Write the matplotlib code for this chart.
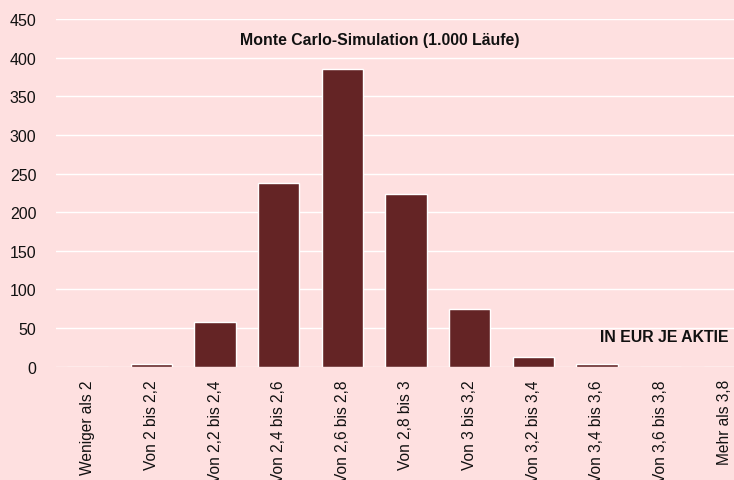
import matplotlib
matplotlib.use('Agg')
import matplotlib.pyplot as plt

# ── Data ──
categories = ["Weniger als 2", "Von 2 bis 2,2", "Von 2,2 bis 2,4", "Von 2,4 bis 2,6",
              "Von 2,6 bis 2,8", "Von 2,8 bis 3", "Von 3 bis 3,2", "Von 3,2 bis 3,4",
              "Von 3,4 bis 3,6", "Von 3,6 bis 3,8", "Mehr als 3,8"]
counts = [0, 4, 58, 238, 385, 224, 75, 12, 4, 0, 0]
y_ticks = [0, 50, 100, 150, 200, 250, 300, 350, 400, 450]

BG = '#FEE0E0'
BAR = '#642425'

plt.rcParams['font.family'] = ['Liberation Sans', 'DejaVu Sans']

fig = plt.figure(figsize=(7.34, 4.81), dpi=100, facecolor=BG)
ax = fig.add_axes([56 / 734, 113.3 / 481, 700 / 734, 347.7 / 481])
ax.set_facecolor(BG)

x = list(range(len(categories)))
ax.bar(x, counts, width=0.65, color=BAR, edgecolor='white', linewidth=1, zorder=3)

ax.set_xlim(-0.5, len(categories) - 0.5)
ax.set_ylim(0, 450)
ax.set_yticks(y_ticks)
ax.set_yticklabels([str(v) for v in y_ticks], fontsize=11.5, color='#111111')
ax.set_xticks(x)
ax.set_xticklabels(categories, rotation=90, fontsize=11.2, color='#111111', va='top')
ax.tick_params(axis='both', length=0)
ax.tick_params(axis='y', pad=14)
ax.tick_params(axis='x', pad=9)
ax.grid(axis='y', color='white', linewidth=1.0, zorder=0)
ax.grid(axis='x', visible=False)
for s in ax.spines.values():
    s.set_visible(False)

fig.text(380 / 734, 1 - 41 / 481, "Monte Carlo-Simulation (1.000 Läufe)",
         ha='center', va='center', fontsize=11.4, fontweight='bold', color='#111111')
fig.text(729 / 734, 1 - 337.5 / 481, "IN EUR JE AKTIE",
         ha='right', va='center', fontsize=11.4, fontweight='bold', color='#111111')

fig.savefig('out.png', dpi=100, facecolor=BG)
